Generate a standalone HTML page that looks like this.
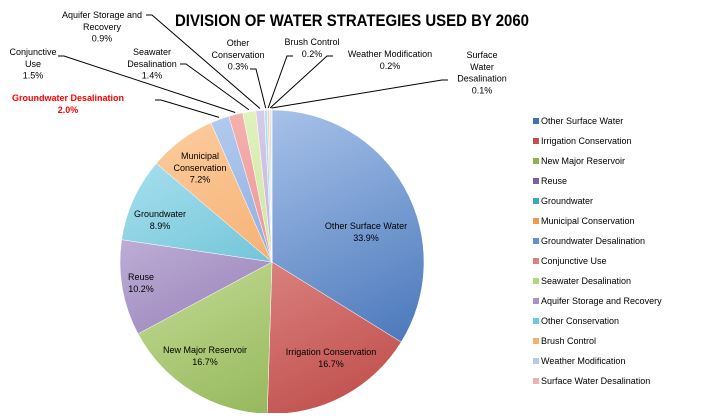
<!DOCTYPE html>
<html><head><meta charset="utf-8"><style>
body{margin:0;background:#fff;}
svg text{font-family:"Liberation Sans",sans-serif;}
</style></head><body>
<svg id="c" width="706" height="413" viewBox="0 0 706 413">
<defs id="defs"></defs>
<text x="352" y="26" text-anchor="middle" font-size="17" font-weight="bold" fill="#000" textLength="354" lengthAdjust="spacingAndGlyphs">DIVISION OF WATER STRATEGIES USED BY 2060</text>
<g id="slices"></g><g id="leaders"></g><g id="labels"></g><g id="legend"></g>
</svg>
<script>
const categories=["Other Surface Water","Irrigation Conservation","New Major Reservoir","Reuse","Groundwater","Municipal Conservation","Groundwater Desalination","Conjunctive Use","Seawater Desalination","Aquifer Storage and Recovery","Other Conservation","Brush Control","Weather Modification","Surface Water Desalination"];
const values=[33.9,16.7,16.7,10.2,8.9,7.2,2.0,1.5,1.4,0.9,0.3,0.2,0.2,0.1];
const valueLabels=["33.9%","16.7%","16.7%","10.2%","8.9%","7.2%","2.0%","1.5%","1.4%","0.9%","0.3%","0.2%","0.2%","0.1%"];
const lightC=["#b3cbef","#f4b0ae","#dcefb4","#d3c6e6","#ace2ef","#fccb9e","#b6cdf0","#f6b4b2","#e4f4c2","#dcd0ee","#b6e9f4","#fdd3a8","#d6e2f4","#f8d4d3"];
const darkC=["#3f6fb5","#c0504d","#8fb253","#7b60a2","#3aa8c5","#f0994a","#6690d0","#e07c79","#b4d67f","#a892cc","#6cc8e0","#f5b070","#b7c9e6","#efb1b0"];
const NS="http://www.w3.org/2000/svg";
const cx=272,cy=262,r=152;
const defs=document.getElementById('defs'),gS=document.getElementById('slices'),gL=document.getElementById('leaders'),gT=document.getElementById('labels'),gG=document.getElementById('legend');
const total=values.reduce((a,b)=>a+b,0);
function pt(a,rr){return [cx+rr*Math.sin(a),cy-rr*Math.cos(a)];}
const labelPos=[
 [366,229,"middle",["Other Surface Water"],null],
 [331,355,"middle",["Irrigation Conservation"],null],
 [205,353,"middle",["New Major Reservoir"],null],
 [141,280,"middle",["Reuse"],null],
 [160,217,"middle",["Groundwater"],null],
 [200,159,"middle",["Municipal","Conservation"],null],
 [68,101,"middle",["Groundwater Desalination"],[155,100]],
 [33,55,"middle",["Conjunctive","Use"],[58,56]],
 [152,55,"middle",["Seawater","Desalination"],[180,64]],
 [102,18,"middle",["Aquifer Storage and","Recovery"],[146,15]],
 [238,46,"middle",["Other","Conservation"],[250,69]],
 [312,45,"middle",["Brush Control"],[293,56]],
 [390,57,"middle",["Weather Modification"],[333,56]],
 [482,58,"middle",["Surface","Water","Desalination"],[448,80]]
];
let a0=0;
values.forEach((v,i)=>{
  const g=document.createElementNS(NS,'linearGradient');
  g.setAttribute('id','g'+i);g.setAttribute('gradientUnits','userSpaceOnUse');
  g.setAttribute('x1',cx-r*0.5);g.setAttribute('y1',cy-r);g.setAttribute('x2',cx+r*0.5);g.setAttribute('y2',cy+r);
  g.innerHTML='<stop offset="0" stop-color="'+lightC[i]+'"/><stop offset="1" stop-color="'+darkC[i]+'"/>';
  defs.appendChild(g);
  const a1=a0+v/total*2*Math.PI;
  const p0=pt(a0,r),p1=pt(a1,r);
  const path=document.createElementNS(NS,'path');
  path.setAttribute('d','M'+cx+','+cy+'L'+p0[0]+','+p0[1]+'A'+r+','+r+' 0 '+((a1-a0)>Math.PI?1:0)+' 1 '+p1[0]+','+p1[1]+'Z');
  path.setAttribute('fill','url(#g'+i+')');path.setAttribute('stroke','#fff');path.setAttribute('stroke-width','0.5');
  
  
  gS.appendChild(path);
  const lp=labelPos[i];
  const mid=(a0+a1)/2;
  if(lp[4]){
    const e=pt(mid,r+2);
    const ln=document.createElementNS(NS,'polyline');
    const s=lp[4];
    ln.setAttribute('points',s[0]+','+s[1]+' '+(s[0]+ (e[0]>s[0]?6:-6))+','+s[1]+' '+e[0]+','+e[1]);
    ln.setAttribute('fill','none');ln.setAttribute('stroke','#000');ln.setAttribute('stroke-width','1');
    
    
    gL.appendChild(ln);
  }
  const t=document.createElementNS(NS,'text');
  t.setAttribute('x',lp[0]);t.setAttribute('y',lp[1]);t.setAttribute('text-anchor',lp[2]);t.setAttribute('font-size','9');
  const red=i===6;
  t.setAttribute('fill',red?'#ff0000':'#000');if(red)t.setAttribute('font-weight','bold');
  const lines=lp[3].concat([valueLabels[i]]);
  lines.forEach((s,k)=>{const ts=document.createElementNS(NS,'tspan');ts.setAttribute('x',lp[0]);ts.setAttribute('dy',k?11.8:0);ts.textContent=s;t.appendChild(ts);});
  
  
  gT.appendChild(t);
  const ly=124+i*20;
  const sw=document.createElementNS(NS,'rect');
  sw.setAttribute('x',533);sw.setAttribute('y',ly-6);sw.setAttribute('width',6);sw.setAttribute('height',6);sw.setAttribute('fill',darkC[i]);
  
  
  gG.appendChild(sw);
  const lt=document.createElementNS(NS,'text');
  lt.setAttribute('x',541);lt.setAttribute('y',ly);lt.setAttribute('font-size','9');lt.setAttribute('fill','#000');lt.textContent=categories[i];
  
  
  gG.appendChild(lt);
  a0=a1;
});
</script>
</body></html>
